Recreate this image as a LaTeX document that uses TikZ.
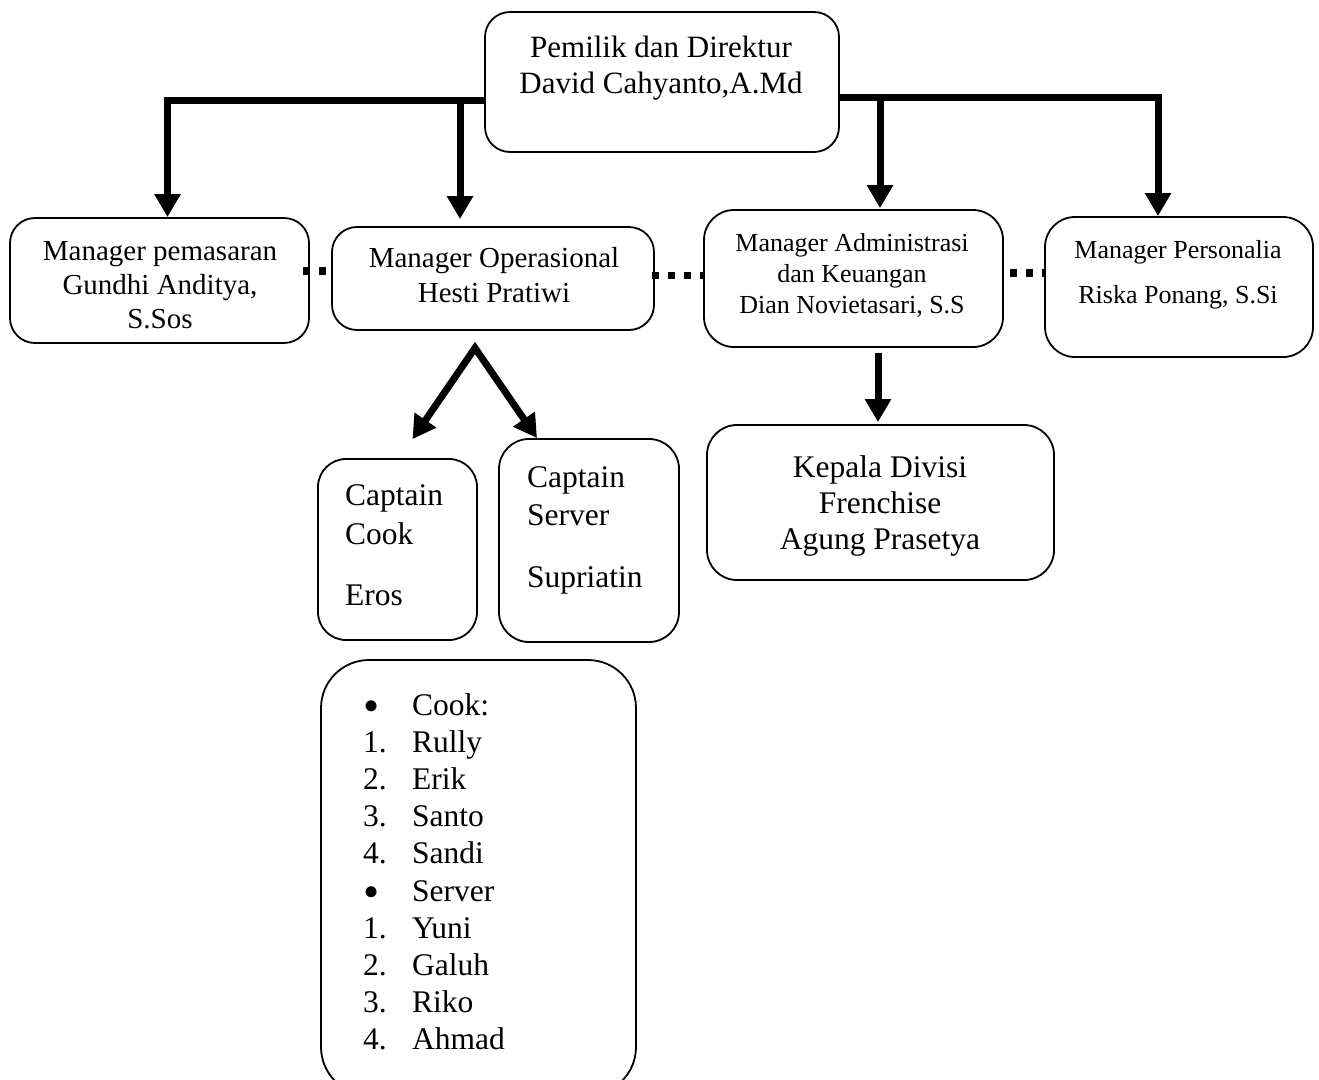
\documentclass[tikz,border=0pt]{standalone}
\usepackage{fontspec}
\setmainfont{Liberation Serif}
\usetikzlibrary{arrows.meta}
\begin{document}
\begin{tikzpicture}[x=1pt,y=-1pt,
  box/.style={draw, line width=1.8pt, rounded corners=#1, inner sep=0pt},
  box/.default=25pt,
  conn/.style={line width=7pt, -{Triangle[length=23pt,width=25pt]}},
  dotline/.style={line width=7.5pt, dash pattern=on 7.5pt off 8.5pt},
  txt/.style={inner sep=0pt, anchor=base},
  txtw/.style={inner sep=0pt, anchor=base west},
  fTop/.style={font=\fontsize{31}{36}\selectfont},
  fMgr/.style={font=\fontsize{29}{34}\selectfont},
  fSm/.style={font=\fontsize{26}{31}\selectfont},
  fBig/.style={font=\fontsize{31.5}{37}\selectfont},
  fBul/.style={font=\fontsize{46}{46}\selectfont}]
\useasboundingbox (0,0) rectangle (1319,1079);
\clip (0,0) rectangle (1319,1079);

% boxes
\node[box, minimum width=354, minimum height=140] (top) at (662,82) {};
\node[box, minimum width=299, minimum height=125] (pem) at (159.5,280.5) {};
\node[box, minimum width=322, minimum height=103] (op) at (493,278.5) {};
\node[box=30pt, minimum width=299, minimum height=137] (adm) at (853.5,278.5) {};
\node[box=30pt, minimum width=268, minimum height=140] (pers) at (1179,287) {};
\node[box=28pt, minimum width=159, minimum height=181] (cook) at (397.5,549.5) {};
\node[box=30pt, minimum width=180, minimum height=203] (srv) at (589,540.5) {};
\node[box=30pt, minimum width=347, minimum height=155] (kep) at (880.5,502.5) {};
\node[box=48pt, minimum width=315, minimum height=435] (list) at (478.5,877.5) {};

% tree connectors
\coordinate (jL) at (460,100);
\coordinate (jR) at (880,97);
\coordinate (apex) at (475,348);
\draw[conn] (top.west |- 0,100) -| ([xshift=8]pem.north);
\draw[conn, shorten >=7pt] (jL) -- (jL |- op.north);
\draw[conn] (top.east |- 0,97) -| ([xshift=-21]pers.north);
\draw[conn, shorten >=1pt] (jR) -- (jR |- adm.north);
\draw[conn, shorten >=2pt] (adm.south -| 878,0) ++(0,5) -- (kep.north -| 878,0);
\draw[line width=7pt, {Triangle[length=23pt,width=25pt]}-{Triangle[length=23pt,width=25pt]}]
  ([shift={(15,-19)}]cook.north) -- (apex) -- ([xshift=-52]srv.north);

% dotted links
\draw[dotline] ([xshift=-7]pem.east |- 0,271) -- (op.west |- 0,271);
\draw[dotline] ([xshift=-3]op.east |- 0,275.5) -- (adm.west |- 0,275.5);
\draw[dotline] ([xshift=6]adm.east |- 0,273) -- ([xshift=2]pers.west |- 0,273);

% texts
\node[txt, fTop] (t1) at (661,57) {Pemilik dan Direktur};
\node[txt, fTop] (t2) at (661,93) {David Cahyanto,A.Md};
\node[txt, fMgr] (p1) at (160,260) {Manager pemasaran};
\node[txt, fMgr] (p2) at (160,294) {Gundhi Anditya,};
\node[txt, fMgr] (p3) at (160,328) {S.Sos};
\node[txt, fMgr] (o1) at (494,267) {Manager Operasional};
\node[txt, fMgr] (o2) at (494,302) {Hesti Pratiwi};
\node[txt, fSm] (a1) at (852,251) {Manager Administrasi};
\node[txt, fSm] (a2) at (852,282) {dan Keuangan};
\node[txt, fSm] (a3) at (852,313) {Dian Novietasari, S.S};
\node[txt, fSm] (r1) at (1178,258) {Manager Personalia};
\node[txt, fSm] (r2) at (1178,303) {Riska Ponang, S.Si};
\node[txtw, fBig] (c1) at (345,505) {Captain};
\node[txtw, fBig] (c2) at (345,544) {Cook};
\node[txtw, fBig] (c3) at (345,605) {Eros};
\node[txtw, fBig] (s1) at (527,487) {Captain};
\node[txtw, fBig] (s2) at (527,525) {Server};
\node[txtw, fBig] (s3) at (527,587) {Supriatin};
\node[txt, fBig] (k1) at (880,477) {Kepala Divisi};
\node[txt, fBig] (k2) at (880,513) {Frenchise};
\node[txt, fBig] (k3) at (880,549) {Agung Prasetya};

% list
\node[txt, fBul] (b1) at (372,721) {\textbullet};
\node[txtw, fBig] (l1) at (412,715) {Cook:};
\foreach \i/\n/\t/\y in {2/1./Rully/752, 3/2./Erik/789, 4/3./Santo/826, 5/4./Sandi/863,
                         7/1./Yuni/938, 8/2./Galuh/975, 9/3./Riko/1012, 10/4./Ahmad/1049}{
  \node[txtw, fBig] (n\i) at (363,\y) {\n};
  \node[txtw, fBig] (l\i) at (412,\y) {\t};
}
\node[txt, fBul] (b6) at (372,907) {\textbullet};
\node[txtw, fBig] (l6) at (412,901) {Server};
\end{tikzpicture}
\end{document}
